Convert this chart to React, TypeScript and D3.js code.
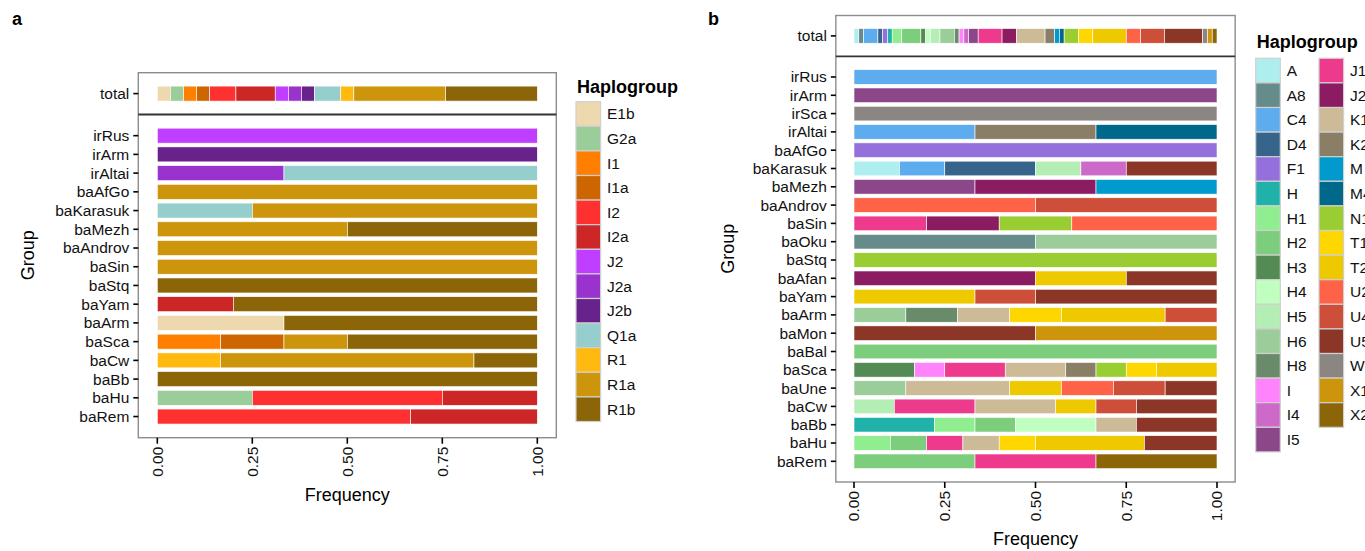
import * as React from 'react';
import * as d3 from 'd3';

// ---- panel a : Y-chromosome ----
const groupsA = ["irRus", "irArm", "irAltai", "baAfGo", "baKarasuk", "baMezh", "baAndrov", "baSin", "baStq",
    "baYam", "baArm", "baSca", "baCw", "baBb", "baHu", "baRem"];
const haploA = ["E1b", "G2a", "I1", "I1a", "I2", "I2a", "J2", "J2a", "J2b", "Q1a", "R1", "R1a", "R1b"];
const colorsA = ["#EED8AE", "#9BCD9B", "#FF7F00", "#CD6600", "#FF3030", "#CD2626", "#BF3EFF", "#9A32CD",
    "#68228B", "#96CDCD", "#FFB90F", "#CD950C", "#8B6508"];
// individuals per haplogroup in each group
const countsA: [string, number][][] = [
    [["J2", 1]],
    [["J2b", 1]],
    [["J2a", 1], ["Q1a", 2]],
    [["R1a", 1]],
    [["Q1a", 1], ["R1a", 3]],
    [["R1a", 1], ["R1b", 1]],
    [["R1a", 1]],
    [["R1a", 1]],
    [["R1b", 1]],
    [["I2a", 1], ["R1b", 4]],
    [["E1b", 1], ["R1b", 2]],
    [["I1", 1], ["I1a", 1], ["R1a", 1], ["R1b", 3]],
    [["R1", 1], ["R1a", 4], ["R1b", 1]],
    [["R1b", 1]],
    [["G2a", 1], ["I2", 2], ["I2a", 1]],
    [["I2", 2], ["I2a", 1]],
];
const totalA: [string, number][] = [["E1b", 1], ["G2a", 1], ["I1", 1], ["I1a", 1], ["I2", 2], ["I2a", 3], ["J2", 1],
    ["J2a", 1], ["J2b", 1], ["Q1a", 2], ["R1", 1], ["R1a", 7], ["R1b", 7]];

// ---- panel b : mtDNA ----
const groupsB = ["irRus", "irArm", "irSca", "irAltai", "baAfGo", "baKarasuk", "baMezh", "baAndrov", "baSin", "baOku",
    "baStq", "baAfan", "baYam", "baArm", "baMon", "baBal", "baSca", "baUne", "baCw", "baBb", "baHu", "baRem"];
const haploB = ["A", "A8", "C4", "D4", "F1", "H", "H1", "H2", "H3", "H4", "H5", "H6", "H8", "I", "I4", "I5",
    "J1c", "J2a", "K1a", "K2a", "M", "M4", "N1a", "T1", "T2", "U2e", "U4", "U5a", "W", "X1", "X2"];
const colorsB = ["#AFEEEE", "#668B8B", "#5CACEE", "#36648B", "#9370DB", "#20B2AA", "#90EE90", "#7CCD7C",
    "#548B54", "#C1FFC1", "#B4EEB4", "#9BCD9B", "#698B69", "#FF83FA", "#CD69C9", "#8B4789",
    "#EE3A8C", "#8B1C62", "#CDBA96", "#8B7E66", "#009ACD", "#00688B", "#9ACD32", "#FFD700", "#EEC900",
    "#FF6347", "#CD4F39", "#8B3626", "#8B8682", "#CD950C", "#8B6508"];
const countsB: [string, number][][] = [
    [["C4", 1]],
    [["I5", 1]],
    [["W", 1]],
    [["C4", 1], ["K2a", 1], ["M4", 1]],
    [["F1", 1]],
    [["A", 1], ["C4", 1], ["D4", 2], ["H5", 1], ["I4", 1], ["U5a", 2]],
    [["I5", 1], ["J2a", 1], ["M", 1]],
    [["U2e", 1], ["U4", 1]],
    [["J1c", 1], ["J2a", 1], ["N1a", 1], ["U2e", 2]],
    [["A8", 1], ["H6", 1]],
    [["N1a", 1]],
    [["J2a", 2], ["T2", 1], ["U5a", 1]],
    [["T2", 2], ["U4", 1], ["U5a", 3]],
    [["H6", 1], ["H8", 1], ["K1a", 1], ["T1", 1], ["T2", 2], ["U4", 1]],
    [["U5a", 1], ["X1", 1]],
    [["H2", 1]],
    [["H3", 2], ["I", 1], ["J1c", 2], ["K1a", 2], ["K2a", 1], ["N1a", 1], ["T1", 1], ["T2", 2]],
    [["H6", 1], ["K1a", 2], ["T2", 1], ["U2e", 1], ["U4", 1], ["U5a", 1]],
    [["H5", 1], ["J1c", 2], ["K1a", 2], ["T2", 1], ["U4", 1], ["U5a", 2]],
    [["H", 2], ["H1", 1], ["H2", 1], ["H4", 2], ["K1a", 1], ["U5a", 2]],
    [["H1", 1], ["H2", 1], ["J1c", 1], ["K1a", 1], ["T1", 1], ["T2", 3], ["U5a", 2]],
    [["H2", 1], ["J1c", 1], ["X2", 1]],
];
const totalB: [string, number][] = [["A", 1], ["A8", 1], ["C4", 3], ["D4", 1], ["F1", 1], ["H", 1], ["H1", 2],
    ["H2", 4], ["H3", 1], ["H4", 1], ["H5", 2], ["H6", 3], ["H8", 1], ["I", 1], ["I4", 1], ["I5", 2], ["J1c", 5],
    ["J2a", 3], ["K1a", 6], ["K2a", 2], ["M", 1], ["M4", 1], ["N1a", 3], ["T1", 3], ["T2", 7], ["U2e", 3],
    ["U4", 5], ["U5a", 8], ["W", 1], ["X1", 1], ["X2", 1]];

const xTicks = [0, 0.25, 0.5, 0.75, 1];
const FONT = "'Liberation Sans', Arial, Helvetica, sans-serif";

interface PanelCfg {
    letter: string;
    letterX: number;
    groups: string[];
    haplos: string[];
    colors: string[];
    counts: [string, number][][];
    total: [string, number][];
    x0: number;
    x1: number;
    topY: [number, number];
    mainY: [number, number];
    legendX: number;
    legendTitleY: number;
    legendY: number;
    legendRows: number;
    legendColGap: number;
    yTitleX: number;
}

const panelA: PanelCfg = {
    letter: "a", letterX: 12, groups: groupsA, haplos: haploA, colors: colorsA, counts: countsA, total: totalA,
    x0: 157.3, x1: 537.3, topY: [72.7, 114.5], mainY: [114.5, 437.7],
    legendX: 576, legendTitleY: 93.3, legendY: 101.7, legendRows: 13, legendColGap: 63.3, yTitleX: 34,
};

const panelB: PanelCfg = {
    letter: "b", letterX: 708, groups: groupsB, haplos: haploB, colors: colorsB, counts: countsB, total: totalB,
    x0: 854, x1: 1217, topY: [15.5, 56.3], mainY: [56.3, 482],
    legendX: 1255.7, legendTitleY: 48.3, legendY: 58.3, legendRows: 16, legendColGap: 63.3, yTitleX: 734,
};

function toRows(names: string[], counts: [string, number][][], haplos: string[]) {
    return names.map((g, i) => {
        const row: any = {group: g};
        haplos.forEach(h => { row[h] = 0; });
        counts[i].forEach(([h, n]) => { row[h] = n; });
        return row;
    });
}

function Bars({rows, haplos, colors, x, y, h}: any) {
    const series = d3.stack<any>().keys(haplos).offset(d3.stackOffsetExpand)(rows);
    return (
        <g>
            {series.map((s, si) => s.map((p, pi) => {
                if (p[1] - p[0] <= 0) return null;
                return <rect key={si + "-" + pi}
                             x={x(p[0])} width={x(p[1]) - x(p[0])}
                             y={y(p.data.group) - h / 2} height={h}
                             fill={colors[si]} stroke="#ffffff" strokeWidth={0.6}/>;
            }))}
        </g>
    );
}

function Panel({cfg}: {cfg: PanelCfg}) {
    const x = d3.scaleLinear().domain([0, 1]).range([cfg.x0, cfg.x1]);
    const pad = (cfg.x1 - cfg.x0) * 0.05;
    const left = cfg.x0 - pad;
    const right = cfg.x1 + pad;
    const yMain = d3.scalePoint<string>().domain(cfg.groups).range(cfg.mainY).padding(1.13);
    const yTop = d3.scalePoint<string>().domain(["total"]).range(cfg.topY).padding(1.13);
    const barH = yMain.step() * 0.8;
    const mainRows = toRows(cfg.groups, cfg.counts, cfg.haplos);
    const topRows = toRows(["total"], [cfg.total], cfg.haplos);
    const fmt = d3.format(".2f");
    const bottom = cfg.mainY[1];

    const yLabels = [
        ...cfg.groups.map(g => ({g, y: yMain(g) as number})),
        {g: "total", y: yTop("total") as number},
    ];

    return (
        <g fontFamily={FONT}>
            <text x={cfg.letterX} y={25} fontSize={18} fontWeight="bold">{cfg.letter}</text>

            <Bars rows={topRows} haplos={cfg.haplos} colors={cfg.colors} x={x} y={yTop} h={barH}/>
            <Bars rows={mainRows} haplos={cfg.haplos} colors={cfg.colors} x={x} y={yMain} h={barH}/>

            <rect x={left} y={cfg.topY[0]} width={right - left} height={cfg.mainY[1] - cfg.topY[0]}
                  fill="none" stroke="#8c8c8c" strokeWidth={1.4}/>
            <line x1={left} x2={right} y1={cfg.mainY[0]} y2={cfg.mainY[0]} stroke="#333333" strokeWidth={1.8}/>

            {yLabels.map(d => (
                <g key={d.g}>
                    <line x1={left - 5} x2={left} y1={d.y} y2={d.y} stroke="#000" strokeWidth={1.6}/>
                    <text x={left - 9} y={d.y} dy="0.35em" textAnchor="end" fontSize={15.5} fill="#111">{d.g}</text>
                </g>
            ))}

            {xTicks.map(t => (
                <g key={t}>
                    <line x1={x(t)} x2={x(t)} y1={bottom} y2={bottom + 6} stroke="#000" strokeWidth={1.6}/>
                    <text transform={`translate(${x(t)},${bottom + 9}) rotate(-90)`} dy="0.35em"
                          textAnchor="end" fontSize={15.5} fill="#111">{fmt(t)}</text>
                </g>
            ))}

            <text x={(cfg.x0 + cfg.x1) / 2} y={bottom + 63.3} textAnchor="middle" fontSize={18}>Frequency</text>
            <text transform={`translate(${cfg.yTitleX},${(cfg.topY[0] + cfg.mainY[1]) / 2}) rotate(-90)`}
                  textAnchor="middle" fontSize={18}>Group</text>

            <text x={cfg.legendX + 1} y={cfg.legendTitleY} fontSize={18} fontWeight="bold">Haplogroup</text>
            {cfg.haplos.map((h, i) => {
                const col = Math.floor(i / cfg.legendRows);
                const row = i % cfg.legendRows;
                const kx = cfg.legendX + col * cfg.legendColGap;
                const ky = cfg.legendY + row * 24.6;
                return (
                    <g key={h}>
                        <rect x={kx} y={ky} width={24.6} height={24.6} fill={cfg.colors[i]}
                              stroke="#d0d0d0" strokeWidth={1.2}/>
                        <text x={kx + 31} y={ky + 12.3} dy="0.35em" fontSize={15.5} fill="#111">{h}</text>
                    </g>
                );
            })}
        </g>
    );
}

export default function App() {
    return (
        <svg width={1365} height={551} style={{position: "absolute", left: 0, top: 0, background: "#fff"}}>
            <Panel cfg={panelA}/>
            <Panel cfg={panelB}/>
        </svg>
    );
}
